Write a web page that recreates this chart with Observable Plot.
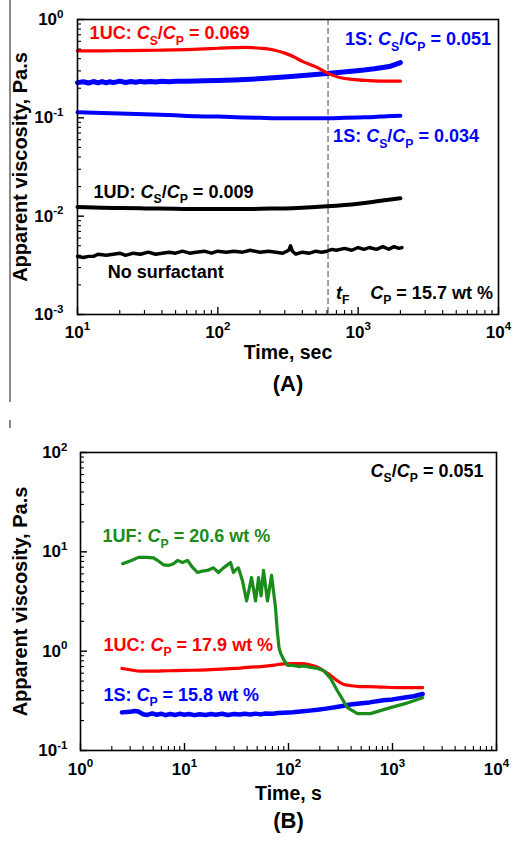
<!DOCTYPE html>
<html><head><meta charset="utf-8">
<script src="https://cdn.jsdelivr.net/npm/d3@7"></script>
<script src="https://cdn.jsdelivr.net/npm/@observablehq/plot@0.6"></script>
<style>
html,body{margin:0;padding:0;background:#fff;}
#wrap{position:relative;width:514px;height:841px;overflow:hidden;background:#fff;}
#wrap svg{display:block;}
.edge{position:absolute;background:#8a8a8a;width:1.5px;}
</style></head><body><div id="wrap"></div>
<script>
// ---------------- DATA ----------------
// Panel A  (Time, sec ; Apparent viscosity, Pa.s)
const tA_1UC = [10, 15, 20, 30, 40, 60, 80, 100, 130, 160, 200, 250, 300, 350, 400, 500, 620, 750, 900, 1200, 1600, 2000];
const vA_1UC = [0.48, 0.48, 0.482, 0.485, 0.488, 0.495, 0.503, 0.51, 0.517, 0.52, 0.51, 0.49, 0.455, 0.415, 0.375, 0.33, 0.28, 0.256, 0.246, 0.239, 0.236, 0.236];

const tA_1S051 = [10, 11, 12, 13, 14, 15, 16, 17, 18, 20, 22, 24, 26, 28, 30, 33, 36, 40, 45, 50, 60, 70, 80, 100, 130, 170, 220, 280, 350, 450, 600, 750, 900, 1100, 1300, 1500, 1700, 1850, 2000];
const vA_1S051 = [0.228, 0.233, 0.226, 0.234, 0.227, 0.234, 0.227, 0.233, 0.228, 0.236, 0.229, 0.234, 0.23, 0.235, 0.231, 0.234, 0.232, 0.235, 0.233, 0.236, 0.235, 0.237, 0.238, 0.24, 0.243, 0.247, 0.252, 0.258, 0.265, 0.273, 0.282, 0.29, 0.298, 0.306, 0.315, 0.325, 0.335, 0.35, 0.365];

const tA_1S034 = [10, 15, 20, 30, 50, 70, 100, 150, 200, 300, 400, 600, 800, 1000, 1300, 1600, 2000];
const vA_1S034 = [0.114, 0.112, 0.111, 0.109, 0.106, 0.104, 0.103, 0.101, 0.1, 0.099, 0.099, 0.099, 0.1, 0.101, 0.102, 0.104, 0.105];

const tA_1UD = [10, 15, 20, 30, 50, 70, 100, 150, 200, 300, 400, 600, 800, 1000, 1300, 1600, 2000];
const vA_1UD = [0.0124, 0.0122, 0.0121, 0.012, 0.0119, 0.0118, 0.0118, 0.0118, 0.0119, 0.012, 0.0122, 0.0126, 0.013, 0.0134, 0.014, 0.0146, 0.0152];

const tA_none = [10, 11, 12, 13, 14, 16, 18, 20, 22, 25, 28, 32, 36, 40, 45, 50, 56, 63, 70, 80, 90, 100, 115, 130, 150, 170, 200, 230, 260, 290, 320, 330, 340, 360, 400, 450, 500, 550, 600, 650, 700, 800, 900, 1000, 1100, 1200, 1350, 1500, 1650, 1800, 1950, 2050];
const vA_none = [0.0039, 0.0038, 0.0039, 0.0039, 0.0041, 0.004, 0.0041, 0.0042, 0.004, 0.0042, 0.0041, 0.0043, 0.0041, 0.0042, 0.0043, 0.0042, 0.0044, 0.0042, 0.0043, 0.0044, 0.0042, 0.0044, 0.0043, 0.0044, 0.0043, 0.0045, 0.0043, 0.0044, 0.0043, 0.0042, 0.0045, 0.005, 0.0044, 0.0041, 0.0043, 0.0042, 0.0044, 0.0043, 0.0044, 0.0046, 0.0045, 0.0047, 0.0045, 0.0048, 0.0046, 0.0048, 0.0046, 0.0049, 0.0046, 0.0049, 0.0047, 0.0048];

const tF = 610;

// Panel B  (Time, s ; Apparent viscosity, Pa.s)
const tB_1UF = [2.54, 3.0, 3.61, 4.3, 5.03, 5.6, 6.28, 7.0, 7.84, 8.57, 9.57, 10.7, 11.9, 13.3, 14.8, 16.6, 19.0, 21.2, 23.7, 25.5, 27.7, 29.6, 31.2, 33.0, 36.1, 39.5, 41.8, 44.1, 48.2, 51.5, 54.5, 57.5, 62.8, 68.7, 75, 78, 81, 84, 90, 98, 110, 125, 140, 160, 190, 217, 254, 295, 369, 460, 614, 955, 1380, 1950];
const vB_1UF = [7.6, 8.1, 8.8, 8.8, 8.7, 8.1, 7.4, 7.3, 7.6, 8.2, 7.8, 8.2, 7.0, 6.2, 6.4, 6.5, 6.9, 6.2, 6.9, 7.3, 7.8, 6.2, 6.6, 6.9, 5.1, 3.2, 4.2, 5.5, 3.2, 5.5, 3.6, 6.5, 3.2, 5.8, 2.75, 1.6, 1.09, 0.95, 0.82, 0.72, 0.72, 0.70, 0.71, 0.69, 0.67, 0.64, 0.53, 0.40, 0.27, 0.235, 0.235, 0.27, 0.30, 0.34];

const tB_1UC = [2.5, 3.0, 3.8, 5, 7, 10, 14, 20, 30, 43, 54, 70, 90, 110, 130, 160, 190, 220, 254, 290, 316, 350, 394, 480, 575, 800, 1200, 1600, 1950];
const vB_1UC = [0.67, 0.65, 0.63, 0.63, 0.635, 0.64, 0.645, 0.655, 0.67, 0.69, 0.7, 0.72, 0.745, 0.75, 0.75, 0.73, 0.69, 0.63, 0.57, 0.51, 0.48, 0.46, 0.45, 0.44, 0.44, 0.435, 0.43, 0.43, 0.43];

const tB_1S = [2.5, 3.0, 3.3, 3.6, 4.0, 4.4, 4.9, 5.4, 6.0, 6.6, 7.3, 8.1, 9.0, 10, 11, 12.5, 14, 16, 18, 20, 23, 26, 30, 34, 38, 43, 48, 54, 60, 70, 80, 90, 110, 130, 160, 190, 230, 280, 330, 394, 480, 600, 820, 1000, 1270, 1600, 1950];
const vB_1S = [0.242, 0.245, 0.25, 0.247, 0.232, 0.228, 0.236, 0.229, 0.234, 0.227, 0.233, 0.228, 0.234, 0.229, 0.233, 0.227, 0.232, 0.228, 0.233, 0.229, 0.234, 0.228, 0.233, 0.23, 0.234, 0.23, 0.235, 0.231, 0.236, 0.234, 0.238, 0.24, 0.243, 0.247, 0.252, 0.257, 0.264, 0.272, 0.28, 0.29, 0.298, 0.305, 0.32, 0.327, 0.34, 0.352, 0.37];

// Axis ticks
const xTicksA = [10, 100, 1000, 10000];
const yTicksA = [0.001, 0.01, 0.1, 1];
const xTicksB = [1, 10, 100, 1000, 10000];
const yTicksB = [0.1, 1, 10, 100];

// ---------------- DRAWING ----------------
const FONT = "'Liberation Sans', Arial, Helvetica, sans-serif";
const RED = "#ff0000", BLUE = "#0000ff", GREEN = "#1a8c1a", BLACK = "#000000";

const series = (t, v) => t.map((d, i) => ({t: d, v: v[i]}));
function minorTicks(majors) {
  const out = [];
  for (let k = 0; k < majors.length - 1; k++) for (let m = 2; m <= 9; m++) out.push(majors[k] * m);
  return out;
}
const powLabel = d => `10^{${Math.round(Math.log10(d))}}`;

function panel(o) {
  const pw = 514 - o.ml - o.mr, ph = o.height - o.mt - o.mb;
  return Plot.plot({
    width: 514, height: o.height,
    marginLeft: o.ml, marginRight: o.mr, marginTop: o.mt, marginBottom: o.mb,
    style: {fontFamily: FONT, fontWeight: "bold", fontSize: "17px", color: "black", background: "white", overflow: "visible"},
    x: {type: "log", domain: o.xDomain},
    y: {type: "log", domain: o.yDomain},
    marks: [
      ...o.marks,
      Plot.tickY(minorTicks(o.yTicks), {y: d => d, stroke: "black", strokeWidth: 1.1, insetRight: pw - 4}),
      Plot.tickY(o.yTicks, {y: d => d, stroke: "black", strokeWidth: 1.4, insetRight: pw - 7}),
      Plot.tickX(minorTicks(o.xTicks), {x: d => d, stroke: "black", strokeWidth: 1.1, insetTop: ph - 4}),
      Plot.tickX(o.xTicks, {x: d => d, stroke: "black", strokeWidth: 1.4, insetTop: ph - 7}),
      Plot.axisY({ticks: o.yTicks, tickSize: 0, tickPadding: o.yPad, tickFormat: powLabel, label: null, fill: "black"}),
      Plot.axisX({ticks: o.xTicks, tickSize: 0, tickPadding: o.xPad, tickFormat: powLabel, label: null, fill: "black"}),
      Plot.frame({stroke: "black", strokeWidth: 1.6}),
      Plot.text([o.yLabel], {text: d => d, frameAnchor: "left", textAnchor: "middle", rotate: -90, dx: o.yLabelDx, fontSize: 20, fill: "black"}),
      Plot.text([o.xLabel], {text: d => d, frameAnchor: "bottom", textAnchor: "middle", dy: o.xLabelDy, fontSize: 19.5, fill: "black"}),
      Plot.text([o.tag], {text: d => d, frameAnchor: "bottom", textAnchor: "middle", dy: o.tagDy, fontSize: 22, fill: "black"})
    ]
  });
}

function note(label, x, y, color, anchor = "start") {
  return Plot.text([{label, x, y}], {x: "x", y: "y", text: "label", fill: color, textAnchor: anchor, fontSize: 18});
}

const plotA = panel({
  height: 410, ml: 77, mr: 16, mt: 19, mb: 96,
  xDomain: [10, 10000], yDomain: [0.001, 1],
  xTicks: xTicksA, yTicks: yTicksA, yPad: 14, xPad: 11,
  yLabel: "Apparent viscosity, Pa.s", yLabelDx: -57,
  xLabel: "Time, sec", xLabelDy: 44, tag: "(A)", tagDy: 76,
  marks: [
    Plot.ruleX([tF], {x: d => d, stroke: "#444", strokeWidth: 1, strokeDasharray: "6,3"}),
    Plot.line(series(tA_1S034, vA_1S034), {x: "t", y: "v", stroke: BLUE, strokeWidth: 4, curve: "monotone-x"}),
    Plot.line(series(tA_1S051, vA_1S051), {x: "t", y: "v", stroke: BLUE, strokeWidth: 5}),
    Plot.line(series(tA_1UC, vA_1UC), {x: "t", y: "v", stroke: RED, strokeWidth: 3.2, curve: "monotone-x"}),
    Plot.line(series(tA_1UD, vA_1UD), {x: "t", y: "v", stroke: BLACK, strokeWidth: 4, curve: "monotone-x"}),
    Plot.line(series(tA_none, vA_none), {x: "t", y: "v", stroke: BLACK, strokeWidth: 3.4}),
    note("1UC: *C*_{S}/*C*_{P} = 0.069", 12.2, 0.717, RED),
    note("1S: *C*_{S}/*C*_{P} = 0.051", 807, 0.623, BLUE),
    note("1S: *C*_{S}/*C*_{P} = 0.034", 663, 0.0643, BLUE),
    note("1UD: *C*_{S}/*C*_{P} = 0.009", 13.0, 0.0177, BLACK),
    note("No surfactant", 16.4, 0.00272, BLACK),
    note("*t*_{F}", 696, 0.00166, BLACK),
    note("*C*_{P} = 15.7 wt %", 1218, 0.00166, BLACK)
  ]
});

const plotB = panel({
  height: 431, ml: 80, mr: 18, mt: 42, mb: 91,
  xDomain: [1, 10000], yDomain: [0.1, 100],
  xTicks: xTicksB, yTicks: yTicksB, yPad: 13, xPad: 12,
  yLabel: "Apparent viscosity, Pa.s", yLabelDx: -60,
  xLabel: "Time, s", xLabelDy: 49, tag: "(B)", tagDy: 77,
  marks: [
    Plot.line(series(tB_1S, vB_1S), {x: "t", y: "v", stroke: BLUE, strokeWidth: 4.5}),
    Plot.line(series(tB_1UC, vB_1UC), {x: "t", y: "v", stroke: RED, strokeWidth: 3.2, curve: "monotone-x"}),
    Plot.line(series(tB_1UF, vB_1UF), {x: "t", y: "v", stroke: GREEN, strokeWidth: 3.2}),
    note("*C*_{S}/*C*_{P} = 0.051", 7500, 64.1, BLACK, "end"),
    note("1UF: *C*_{P} = 20.6 wt %", 1.63, 14.2, GREEN),
    note("1UC: *C*_{P} = 17.9 wt %", 1.66, 1.16, RED),
    note("1S: *C*_{P} = 15.8 wt %", 1.66, 0.364, BLUE)
  ]
});

const wrap = document.getElementById("wrap");
wrap.appendChild(plotA);
wrap.appendChild(plotB);
const e1 = document.createElement("div"); e1.className = "edge";
e1.style.left = "9px"; e1.style.top = "0px"; e1.style.height = "402px";
wrap.appendChild(e1);
const e2 = document.createElement("div"); e2.className = "edge";
e2.style.left = "9px"; e2.style.top = "420px"; e2.style.height = "8px";
wrap.appendChild(e2);

// rich text: *italic*, _{sub}, ^{sup}
const NS = "http://www.w3.org/2000/svg";
function richify(el) {
  const src = el.textContent;
  if (!/[*_^]/.test(src)) return;
  const base = parseFloat(getComputedStyle(el).fontSize) || 17;
  const segs = [];
  let i = 0, italic = false;
  while (i < src.length) {
    const c = src[i];
    if (c === "*") { italic = !italic; i++; continue; }
    if ((c === "_" || c === "^") && src[i + 1] === "{") {
      const j = src.indexOf("}", i);
      segs.push({t: src.slice(i + 2, j), mode: c === "_" ? "sub" : "sup", italic: false});
      i = j + 1; continue;
    }
    let j = i + 1;
    while (j < src.length && !"*_^".includes(src[j])) j++;
    segs.push({t: src.slice(i, j), mode: "base", italic});
    i = j;
  }
  el.textContent = "";
  let shift = 0;
  for (const s of segs) {
    const ts = document.createElementNS(NS, "tspan");
    const target = s.mode === "sub" ? base * 0.28 : s.mode === "sup" ? -base * 0.42 : 0;
    ts.setAttribute("dy", (target - shift).toFixed(2));
    shift = target;
    if (s.mode !== "base") ts.setAttribute("font-size", (base * 0.68).toFixed(2));
    if (s.italic) ts.setAttribute("font-style", "italic");
    ts.textContent = s.t;
    el.appendChild(ts);
  }
}
document.querySelectorAll("#wrap svg text").forEach(richify);
</script></body></html>
